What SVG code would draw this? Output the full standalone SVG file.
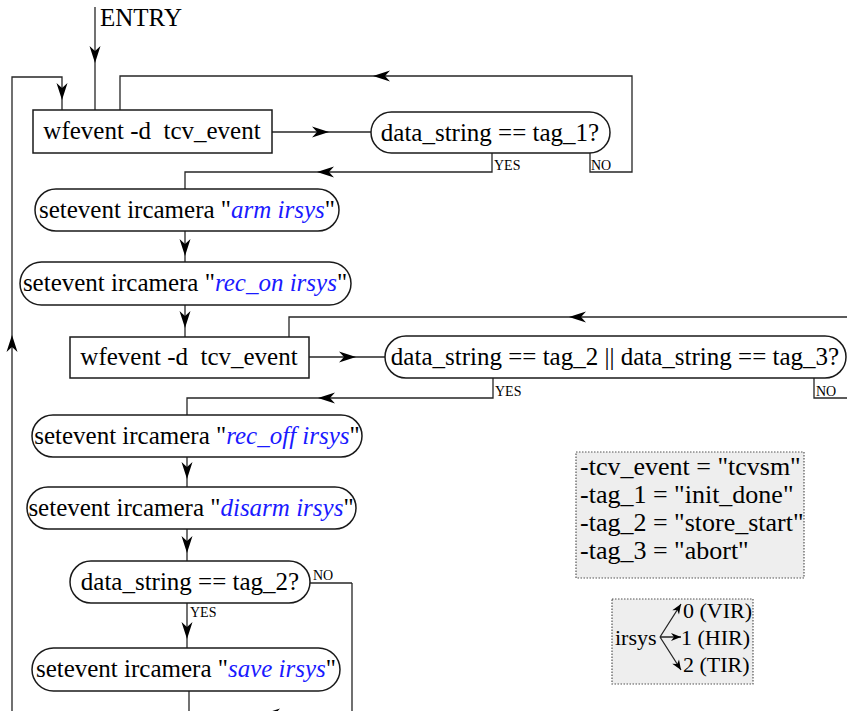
<svg xmlns="http://www.w3.org/2000/svg" xmlns:xlink="http://www.w3.org/1999/xlink" width="847" height="711" viewBox="0 0 847 711">
  <style>
    .box { fill: #ffffff; stroke: #1a1a1a; stroke-width: 1.5; }
    .wire { fill: none; stroke: #262626; stroke-width: 1.3; }
    .t { font-family: "Liberation Serif", "Times New Roman", serif; font-size: 25px; fill: #000; text-anchor: middle; }
    .arg { fill: #1a1aff; font-style: italic; }
    .lbl { font-family: "Liberation Serif", "Times New Roman", serif; font-size: 14px; fill: #000; }
    .note { fill: #eeeeee; stroke: #555; stroke-width: 1.2; stroke-dasharray: 1.5 1.5; }
    .nt { font-family: "Liberation Serif", "Times New Roman", serif; font-size: 26px; fill: #000; }
    .nt2 { font-family: "Liberation Serif", "Times New Roman", serif; font-size: 22px; fill: #000; }
  </style>
  <defs>
    <!-- barbed arrowhead, tip at origin, pointing along +x -->
    <path id="ah" d="M0,0 L-17,-5.5 L-12,0 L-17,5.5 Z" fill="#000"/>
    <path id="ahs" d="M0,0 L-10,-4 L-7,0 L-10,4 Z" fill="#000"/>
  </defs>

  <!-- connectors -->
  <g id="connectors">
    <path class="wire" d="M95,7 V110"/>
    <use xlink:href="#ah" transform="translate(95,63) rotate(90)"/>

    <!-- outer loop back to the first wait -->
    <path class="wire" d="M352,583 V714 H12 V77 H62 V110"/>
    <use xlink:href="#ah" transform="translate(12,335) rotate(-90)"/>
    <use xlink:href="#ah" transform="translate(62,100) rotate(90)"/>
    <use xlink:href="#ah" transform="translate(263,714) rotate(180)"/>
    <path class="wire" d="M189,691 V714"/>

    <path class="wire" d="M272,132 H371"/>
    <use xlink:href="#ah" transform="translate(329,132)"/>

    <path class="wire" d="M590,153 V172 H632 V76 H120 V110"/>
    <use xlink:href="#ah" transform="translate(373,76) rotate(180)"/>

    <path class="wire" d="M492,153 V172 H185 V189"/>
    <use xlink:href="#ah" transform="translate(317,172) rotate(180)"/>

    <path class="wire" d="M185,231 V262"/>
    <use xlink:href="#ah" transform="translate(185,256) rotate(90)"/>

    <path class="wire" d="M185,305 V337"/>
    <use xlink:href="#ah" transform="translate(185,328) rotate(90)"/>

    <path class="wire" d="M289,337 V317 H847"/>
    <use xlink:href="#ah" transform="translate(569,317) rotate(180)"/>

    <path class="wire" d="M309,357 H385"/>
    <use xlink:href="#ah" transform="translate(356,357)"/>

    <path class="wire" d="M814,378 V398 H847"/>

    <path class="wire" d="M493,378 V398 H187 V415"/>
    <use xlink:href="#ah" transform="translate(318,398) rotate(180)"/>

    <path class="wire" d="M187,457 V487"/>
    <use xlink:href="#ah" transform="translate(187,479) rotate(90)"/>

    <path class="wire" d="M187,529 V561"/>
    <use xlink:href="#ah" transform="translate(187,553) rotate(90)"/>

    <path class="wire" d="M310,583 H352"/>

    <path class="wire" d="M187,603 V648"/>
    <use xlink:href="#ah" transform="translate(187,639) rotate(90)"/>

    <text class="lbl" x="494" y="170">YES</text>
    <text class="lbl" x="591" y="170">NO</text>
    <text class="lbl" x="495" y="396">YES</text>
    <text class="lbl" x="816" y="396">NO</text>
    <text class="lbl" x="313" y="580">NO</text>
    <text class="lbl" x="190" y="617">YES</text>
  </g>

  <g id="entry">
    <text class="t" x="100" y="26" style="text-anchor:start">ENTRY</text>
  </g>

  <g id="wait1">
    <rect class="box" x="33" y="110" width="239" height="43"/>
    <text class="t" x="152" y="139" style="white-space:pre">wfevent -d  tcv_event</text>
  </g>

  <g id="check1">
    <rect class="box" x="371" y="112" width="239" height="41" rx="20.5"/>
    <text class="t" x="490" y="141">data_string == tag_1?</text>
  </g>

  <g id="arm">
    <rect class="box" x="35" y="189" width="304" height="42" rx="21"/>
    <text class="t" x="187" y="218">setevent ircamera "<tspan class="arg">arm irsys</tspan>"</text>
  </g>

  <g id="rec-on">
    <rect class="box" x="20" y="262" width="331" height="43" rx="21.5"/>
    <text class="t" x="185" y="291">setevent ircamera "<tspan class="arg">rec_on irsys</tspan>"</text>
  </g>

  <g id="wait2">
    <rect class="box" x="70" y="337" width="239" height="41"/>
    <text class="t" x="189" y="365" style="white-space:pre">wfevent -d  tcv_event</text>
  </g>

  <g id="check2">
    <rect class="box" x="385" y="336" width="461" height="42" rx="21"/>
    <text class="t" x="615" y="365">data_string == tag_2 || data_string == tag_3?</text>
  </g>

  <g id="rec-off">
    <rect class="box" x="32" y="415" width="330" height="42" rx="21"/>
    <text class="t" x="197" y="444">setevent ircamera "<tspan class="arg">rec_off irsys</tspan>"</text>
  </g>

  <g id="disarm">
    <rect class="box" x="27" y="487" width="329" height="42" rx="21"/>
    <text class="t" x="191" y="516">setevent ircamera "<tspan class="arg">disarm irsys</tspan>"</text>
  </g>

  <g id="check3">
    <rect class="box" x="70" y="561" width="240" height="42" rx="21"/>
    <text class="t" x="190" y="590">data_string == tag_2?</text>
  </g>

  <g id="save">
    <rect class="box" x="32" y="648" width="308" height="43" rx="21.5"/>
    <text class="t" x="186" y="677">setevent ircamera "<tspan class="arg">save irsys</tspan>"</text>
  </g>

  <!-- parameter notes -->
  <g id="params">
    <rect class="note" x="576" y="452" width="228" height="126"/>
    <text class="nt" x="580" y="475">-tcv_event = "tcvsm"</text>
    <text class="nt" x="580" y="503">-tag_1 = "init_done"</text>
    <text class="nt" x="580" y="531">-tag_2 = "store_start"</text>
    <text class="nt" x="580" y="559">-tag_3 = "abort"</text>
  </g>

  <g id="irsys-values">
    <rect class="note" x="612" y="599" width="141" height="85"/>
    <text class="nt2" x="615" y="645">irsys</text>
    <text class="nt2" x="683" y="618">0 (VIR)</text>
    <text class="nt2" x="681" y="645">1 (HIR)</text>
    <text class="nt2" x="683" y="672">2 (TIR)</text>
    <path class="wire" d="M660,637 L681,604 M660,637 L681,637 M660,637 L681,670"/>
    <use xlink:href="#ahs" transform="translate(681,604) rotate(-57.5)"/>
    <use xlink:href="#ahs" transform="translate(681,637)"/>
    <use xlink:href="#ahs" transform="translate(681,670) rotate(57.5)"/>
  </g>
</svg>
